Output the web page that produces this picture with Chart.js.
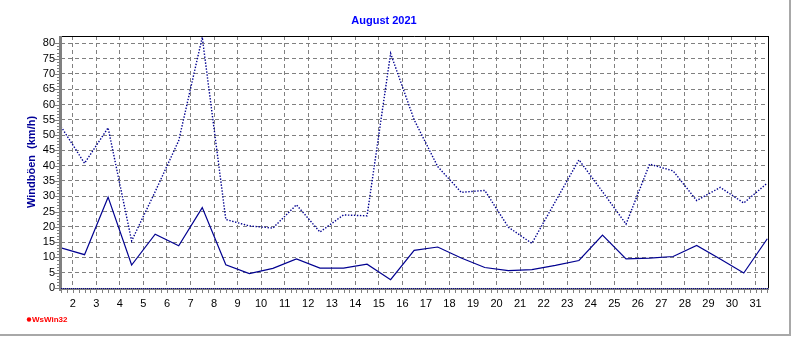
<!DOCTYPE html>
<html>
<head>
<meta charset="utf-8">
<script src="https://cdn.jsdelivr.net/npm/chart.js@4.4.1/dist/chart.umd.min.js"></script>
<style>
  html, body { margin: 0; padding: 0; background: #ffffff; overflow: hidden; }
  #wrap { width: 792px; height: 337px; position: relative; }
</style>
</head>
<body>
<div id="wrap"><canvas id="chart" width="792" height="337"></canvas></div>
<script>
// Days of August 2021; each daily value is plotted at midday (day + 0.5)
const days = [1, 2, 3, 4, 5, 6, 7, 8, 9, 10, 11, 12, 13, 14, 15, 16, 17, 18, 19, 20,
              21, 22, 23, 24, 25, 26, 27, 28, 29, 30, 31];

// Maximum gust per day (km/h) - dotted line
const gusts = [52.8, 40.8, 52.4, 15.4, 31.5, 48.2, 82.0, 22.4, 20.3, 19.6,
               27.2, 18.3, 23.9, 23.6, 76.7, 55.0, 39.7, 31.3, 31.9, 19.9,
               14.6, 28.3, 41.9, 31.5, 20.9, 40.5, 38.3, 28.6, 32.9, 27.8, 34.3];

// Mean wind per day (km/h) - solid line
const wind = [13.1, 10.9, 29.7, 7.5, 17.6, 13.8, 26.3, 7.6, 4.7, 6.4,
              9.5, 6.5, 6.5, 7.8, 2.7, 12.3, 13.4, 9.8, 6.7, 5.7,
              6.0, 7.4, 9.0, 17.3, 9.5, 9.8, 10.3, 13.9, 9.5, 4.9, 16.1];

// Axis tick labels
const dayTicks = [2, 3, 4, 5, 6, 7, 8, 9, 10, 11, 12, 13, 14, 15, 16, 17, 18, 19, 20,
                  21, 22, 23, 24, 25, 26, 27, 28, 29, 30, 31];
const valueTicks = [0, 5, 10, 15, 20, 25, 30, 35, 40, 45, 50, 55, 60, 65, 70, 75, 80];

const FONT = "'Liberation Sans', Arial, sans-serif";
const GRID = '#808080';
const LINE = '#000090';

const toPoints = vals => days.map((d, i) => ({ x: d + 0.5, y: vals[i] }));

// Frame, axis lines, minor tick marks and the program mark
const decorations = {
  id: 'decorations',
  beforeDraw(chart) {
    const ctx = chart.ctx;
    ctx.save();
    ctx.fillStyle = '#ffffff';
    ctx.fillRect(0, 0, chart.width, chart.height);
    ctx.restore();
  },
  afterDraw(chart) {
    const { ctx, chartArea: a, scales: { x, y } } = chart;
    ctx.save();

    // outer frame (right and bottom)
    ctx.strokeStyle = '#a8a8a8';
    ctx.lineWidth = 2;
    ctx.beginPath();
    ctx.moveTo(790, 0); ctx.lineTo(790, 336);
    ctx.moveTo(0, 335); ctx.lineTo(791, 335);
    ctx.stroke();

    // top and right border of the plot
    ctx.strokeStyle = '#000000';
    ctx.lineWidth = 1;
    ctx.beginPath();
    ctx.moveTo(a.left, a.top + 0.5); ctx.lineTo(a.right + 0.5, a.top + 0.5);
    ctx.moveTo(a.right + 0.5, a.top); ctx.lineTo(a.right + 0.5, a.bottom + 1);
    ctx.stroke();

    // minor ticks under the time axis (every 6 hours)
    ctx.strokeStyle = GRID;
    ctx.lineWidth = 1;
    ctx.beginPath();
    for (let t = x.min; t <= x.max + 1e-6; t += 0.25) {
      const px = Math.round(x.getPixelForValue(t)) + 0.5;
      ctx.moveTo(px, a.bottom + 2); ctx.lineTo(px, a.bottom + 5);
    }
    ctx.stroke();

    // ticks left of the value axis
    ctx.beginPath();
    for (let v = y.min; v <= 80; v += 1) {
      const py = Math.round(y.getPixelForValue(v)) + 0.5;
      const len = (v % 5 === 0) ? 4 : 2;
      ctx.moveTo(a.left - 2 - len, py); ctx.lineTo(a.left - 2, py);
    }
    ctx.stroke();

    // value axis line
    ctx.fillStyle = GRID;
    ctx.fillRect(a.left - 2, a.top, 3, a.bottom - a.top + 3);

    // time axis line
    ctx.fillRect(a.left, a.bottom, a.right - a.left + 1, 2);
    ctx.strokeStyle = LINE;
    ctx.setLineDash([1, 1]);
    ctx.beginPath();
    ctx.moveTo(a.left, a.bottom + 0.5); ctx.lineTo(a.right, a.bottom + 0.5);
    ctx.stroke();
    ctx.setLineDash([]);

    // program mark
    ctx.fillStyle = '#ff0000';
    ctx.beginPath();
    ctx.arc(29, 319.5, 2.2, 0, Math.PI * 2);
    ctx.fill();
    ctx.font = "bold 8px " + FONT;
    ctx.textBaseline = 'middle';
    ctx.textAlign = 'left';
    ctx.fillText('WsWin32', 32, 320);

    ctx.restore();
  }
};

new Chart(document.getElementById('chart'), {
  type: 'line',
  data: {
    datasets: [
      {
        label: 'Windböen',
        data: toPoints(gusts),
        borderColor: LINE,
        borderWidth: 1.4,
        borderDash: [1.4, 1.6],
        pointRadius: 0,
        tension: 0,
        fill: false
      },
      {
        label: 'Wind',
        data: toPoints(wind),
        borderColor: LINE,
        borderWidth: 1.2,
        pointRadius: 0,
        tension: 0,
        fill: false
      }
    ]
  },
  options: {
    responsive: false,
    animation: false,
    devicePixelRatio: 1,
    events: [],
    layout: { padding: { left: 0, right: 24, top: 0, bottom: 0 } },
    plugins: {
      legend: { display: false },
      tooltip: { enabled: false },
      title: {
        display: true,
        text: 'August 2021',
        color: '#0000ff',
        font: { family: FONT, size: 11, weight: 'bold' },
        padding: { top: 14.5, bottom: 8.3 }
      }
    },
    scales: {
      x: {
        type: 'linear',
        min: 1.5,
        max: 31.53,
        afterBuildTicks: s => { s.ticks = dayTicks.map(v => ({ value: v })); },
        afterFit: s => { s.height = 49; },
        ticks: {
          color: '#000000',
          font: { family: FONT, size: 11 },
          padding: 9,
          maxRotation: 0,
          autoSkip: false,
          callback: v => String(v)
        },
        grid: { color: GRID, lineWidth: 1, drawTicks: false },
        border: { display: false, dash: [4, 3] }
      },
      y: {
        type: 'linear',
        min: 0,
        max: 82.4,
        afterBuildTicks: s => { s.ticks = valueTicks.map(v => ({ value: v })); },
        afterFit: s => { s.width = 61; },
        ticks: {
          color: '#000000',
          font: { family: FONT, size: 11 },
          padding: 6,
          autoSkip: false
        },
        grid: { color: GRID, lineWidth: 1, drawTicks: false },
        border: { display: false, dash: [4, 3] },
        title: {
          display: true,
          text: 'Windböen  (km/h)',
          color: '#000099',
          font: { family: FONT, size: 11, weight: 'bold' },
          padding: { top: 25, bottom: 0 }
        }
      }
    }
  },
  plugins: [decorations]
});
</script>
</body>
</html>
